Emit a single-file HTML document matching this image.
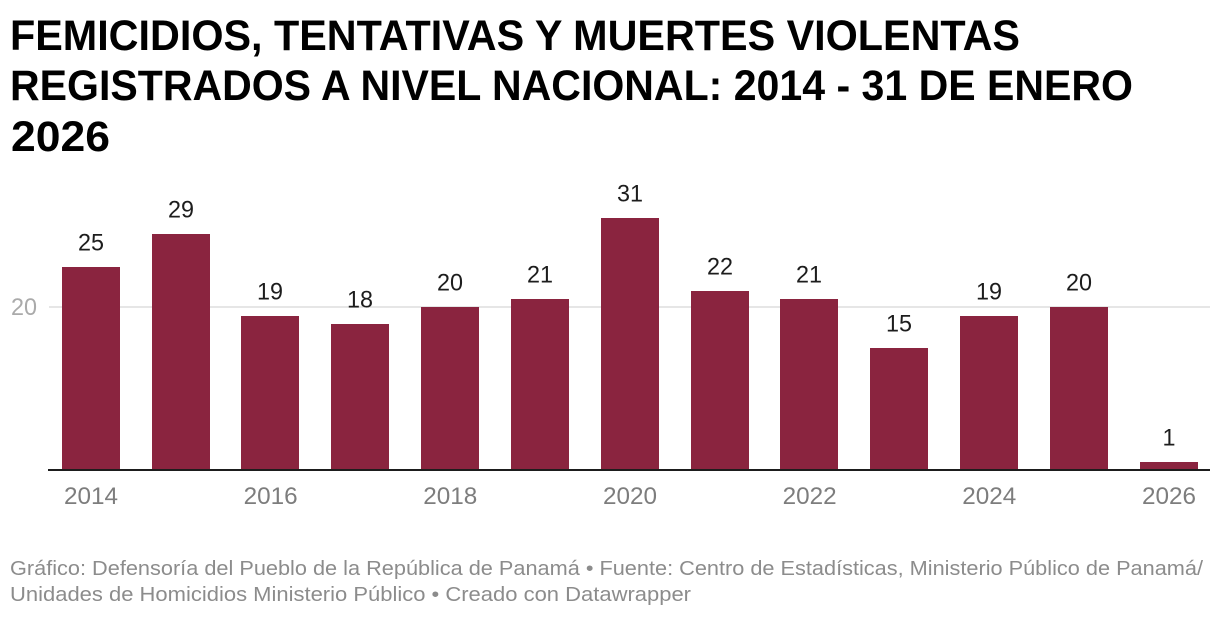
<!DOCTYPE html>
<html lang="es">
<head>
<meta charset="utf-8">
<title>Femicidios, tentativas y muertes violentas</title>
<style>
html,body{margin:0;padding:0;background:#fff;width:1220px;height:618px;overflow:hidden}
svg{display:block;font-family:"Liberation Sans",sans-serif}
</style>
</head>
<body>
<svg id="chart" width="1220" height="618" viewBox="0 0 1220 618" xmlns="http://www.w3.org/2000/svg">
  <rect x="0" y="0" width="1220" height="618" fill="#ffffff"/>
  <g font-weight="700" font-size="43" fill="#000000">
    <text x="10" y="50" textLength="1010" lengthAdjust="spacingAndGlyphs">FEMICIDIOS, TENTATIVAS Y MUERTES VIOLENTAS</text>
    <text x="10" y="100" textLength="1123" lengthAdjust="spacingAndGlyphs">REGISTRADOS A NIVEL NACIONAL: 2014 - 31 DE ENERO</text>
    <text x="11" y="151" textLength="99" lengthAdjust="spacingAndGlyphs">2026</text>
  </g>
  <g id="grid"></g>
  <g id="bars" shape-rendering="crispEdges"></g>
  <g id="values"></g>
  <g id="xticks"></g>
  <g font-size="20.5" fill="#8c8c8c">
    <text x="10" y="575" textLength="1193" lengthAdjust="spacingAndGlyphs">Gráfico: Defensoría del Pueblo de la República de Panamá • Fuente: Centro de Estadísticas, Ministerio Público de Panamá/</text>
    <text x="10" y="601" textLength="681" lengthAdjust="spacingAndGlyphs">Unidades de Homicidios Ministerio Público • Creado con Datawrapper</text>
  </g>
</svg>
<script>
const categories = [2014, 2015, 2016, 2017, 2018, 2019, 2020, 2021, 2022, 2023, 2024, 2025, 2026];
const seriesValues = [25, 29, 19, 18, 20, 21, 31, 22, 21, 15, 19, 20, 1];
const xTickLabels = ["2014", "2016", "2018", "2020", "2022", "2024", "2026"];
const yTickValues = [20];

const NS = "http://www.w3.org/2000/svg";
const plot = { base: 470, unit: 8.13, firstBar: 61.8, barWidth: 58, step: 89.83 };

function xExact(category) {
  return plot.firstBar + categories.indexOf(category) * plot.step;
}
function xPos(category) {
  return Math.round(xExact(category));
}
function yPos(value) {
  return Math.round(plot.base - value * plot.unit);
}
function make(tag, attrs, parent, text) {
  const el = document.createElementNS(NS, tag);
  for (const k in attrs) el.setAttribute(k, attrs[k]);
  if (text !== undefined) el.textContent = text;
  parent.appendChild(el);
  return el;
}

const gridG = document.getElementById("grid");
const barsG = document.getElementById("bars");
const valuesG = document.getElementById("values");
const xticksG = document.getElementById("xticks");

yTickValues.forEach(function (v) {
  const line = make("line", { x1: 49, x2: 1210, y1: yPos(v), y2: yPos(v), stroke: "#e6e6e6", "stroke-width": 2 }, gridG);
  
  
  const label = make("text", { x: 37, y: yPos(v) + 8, "text-anchor": "end", "font-size": 24, fill: "#aaaaaa", textLength: 26, lengthAdjust: "spacingAndGlyphs" }, gridG, String(v));
  
  
});

categories.forEach(function (c, i) {
  const v = seriesValues[i];
  const x = xPos(c);
  const y = yPos(v);
  const bar = make("rect", { x: x, y: y, width: plot.barWidth, height: plot.base - y, fill: "#8a243f" }, barsG);
  
  
  const text = String(v);
  const label = make("text", { x: x + plot.barWidth / 2, y: y - 16.5, "text-anchor": "middle", "font-size": 24, fill: "#1d1d1d", textLength: 13 * text.length, lengthAdjust: "spacingAndGlyphs" }, valuesG, text);
  
  
});

const axisLine = make("line", { x1: 48, x2: 1210, y1: plot.base, y2: plot.base, stroke: "#1d1d1d", "stroke-width": 2 }, xticksG);



xTickLabels.forEach(function (t) {
  const tick = make("text", { x: xExact(Number(t)) + plot.barWidth / 2 + 0.2, y: 504, "text-anchor": "middle", "font-size": 24, fill: "#7d7d7d", textLength: 54, lengthAdjust: "spacingAndGlyphs" }, xticksG, t);
  
  
});
</script>
</body>
</html>
